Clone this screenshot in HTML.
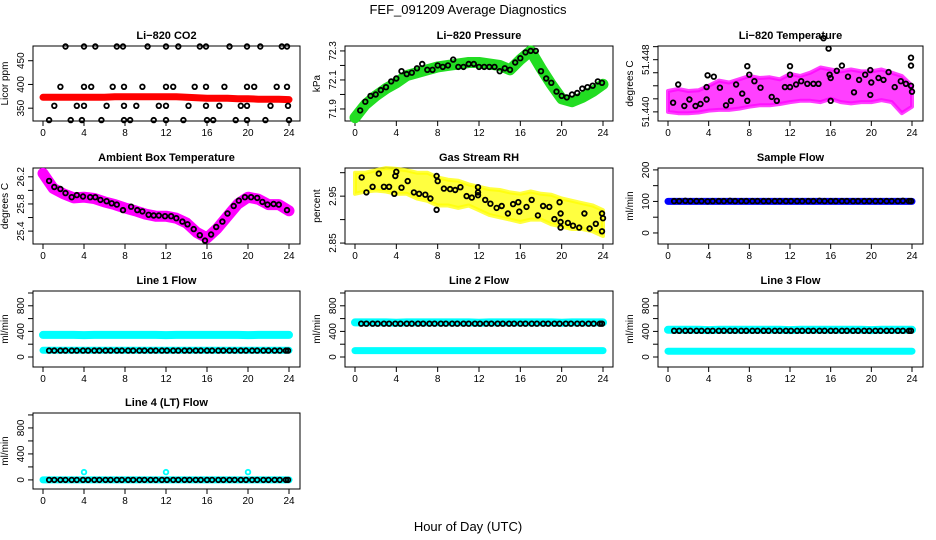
<!DOCTYPE html>
<html><head><meta charset="utf-8">
<style>
html,body{margin:0;padding:0;background:#fff;}
svg{display:block;font-family:"Liberation Sans",sans-serif;}
.t{font-weight:bold;font-size:11px;}
.a{font-size:10px;}
</style></head>
<body>
<svg id="c" width="936" height="540" viewBox="0 0 936 540">
<text x="468" y="14" text-anchor="middle" font-size="13">FEF_091209  Average Diagnostics</text>
<text x="468" y="531" text-anchor="middle" font-size="13">Hour of Day (UTC)</text>
</svg>
<script>
// ---------- data ----------
const xTicks = [0,4,8,12,16,20,24];
const hourly = [0,1,2,3,4,5,6,7,8,9,10,11,12,13,14,15,16,17,18,19,20,21,22,23,24];

const co2BlackHours = [2.2,4.0,5.1,7.2,7.8,10.2,12.0,13.2,15.3,15.9,18.2,19.9,21.2,23.3,23.8,
 1.7,4.0,4.7,6.8,7.9,9.7,12.0,12.7,14.8,15.9,17.7,19.9,20.6,22.8,23.8,
 1.1,3.3,4.0,6.2,7.9,9.1,11.3,12.0,14.2,15.9,17.2,19.3,19.9,22.2,23.9,
 0.6,2.7,3.8,5.7,7.9,8.5,10.8,12.0,13.7,16.0,16.6,18.8,19.9,21.7,24.0];
const co2BlackValues = [480,480,480,480,480,480,480,480,480,480,480,480,480,480,480,
 395,395,395,395,395,395,395,395,395,395,395,395,395,395,395,
 355,355,355,355,355,355,355,355,355,355,355,355,355,355,355,
 325,325,325,325,325,325,325,325,325,325,325,325,325,325,325];
const co2Band = [373,373,373,373,373,373,373,374,374,374,374,374,374,374,373,372,371,371,371,370,370,369,369,369,368];

const presBand = [71.84,71.93,71.99,72.04,72.08,72.13,72.15,72.17,72.19,72.20,72.21,72.22,72.22,72.21,72.20,72.17,72.24,72.30,72.18,72.07,71.97,71.95,71.98,72.02,72.07];
const presBlackHours = [0.5,1,1.5,2,2.5,3,3.5,4,4.5,5,5.5,6,6.5,7,7.5,8,8.5,9,9.5,10,10.5,11,11.5,12,12.5,13,13.5,14,14.5,15,15.5,16,16.5,17,17.5,18,18.5,19,19.5,20,20.5,21,21.5,22,22.5,23,23.5,23.9];
const presBlackValues = [71.89,71.95,71.99,72.00,72.03,72.05,72.09,72.11,72.16,72.14,72.15,72.18,72.21,72.17,72.17,72.20,72.19,72.20,72.24,72.19,72.19,72.21,72.21,72.19,72.19,72.19,72.19,72.16,72.18,72.17,72.22,72.25,72.29,72.30,72.30,72.16,72.11,72.08,72.02,71.99,71.98,72.00,72.01,72.04,72.05,72.06,72.09,72.08];

const tempUpper = [51.4432,51.4435,51.4432,51.4433,51.4440,51.4448,51.4445,51.4450,51.4455,51.4452,51.4453,51.4450,51.4458,51.4455,51.4460,51.4468,51.4465,51.4462,51.4465,51.4462,51.4462,51.4465,51.4460,51.4455,51.4440];
const tempLower = [51.4400,51.4398,51.4398,51.4399,51.4402,51.4403,51.4403,51.4405,51.4408,51.4410,51.4410,51.4412,51.4415,51.4417,51.4417,51.4415,51.4420,51.4415,51.4413,51.4415,51.4415,51.4418,51.4415,51.4398,51.4408];
const tempBlackHours = [0.5,1.0,1.6,2.1,2.7,3.2,3.8,3.8,3.9,4.5,5.1,5.7,6.2,6.7,7.3,7.8,7.8,8.0,8.5,9.1,10.2,10.7,11.5,12,12,12,12.6,13.1,13.7,14.3,14.8,15.3,15.8,15.9,16,16,16.6,17.1,17.7,18.3,18.8,19.4,19.9,19.9,20,20.7,21.2,21.7,22.3,22.9,23.4,23.9,23.9,23.9,24];
const tempBlackValues = [51.4414,51.4442,51.4409,51.4419,51.4409,51.4412,51.4419,51.4438,51.4456,51.4454,51.4437,51.4410,51.4417,51.4442,51.4428,51.4417,51.4470,51.4457,51.4447,51.4437,51.4423,51.4417,51.4438,51.4438,51.4457,51.4470,51.4442,51.4447,51.4443,51.4443,51.4443,51.4513,51.4497,51.4457,51.4452,51.4417,51.4463,51.4471,51.4454,51.4430,51.4449,51.4457,51.4464,51.4426,51.4445,51.4452,51.4449,51.4461,51.4438,51.4447,51.4443,51.4483,51.4471,51.4440,51.4431];

const ambBand = [26.25,26.03,25.95,25.89,25.9,25.88,25.83,25.79,25.74,25.70,25.65,25.62,25.62,25.59,25.52,25.38,25.30,25.44,25.62,25.80,25.90,25.87,25.79,25.79,25.70];
const ambBlackHours = [0.6,1.1,1.7,2.2,2.8,3.3,3.9,4.6,5.1,5.6,6.2,6.7,7.2,7.8,8.6,9.2,9.7,10.3,10.8,11.3,11.9,12.5,13.0,13.6,14.1,14.7,15.3,15.8,16.4,16.9,17.5,18.0,18.6,19.1,19.7,20.3,20.9,21.4,21.9,22.5,23.0,23.8];
const ambBlackValues = [26.14,26.05,26.02,25.96,25.90,25.93,25.91,25.90,25.90,25.86,25.84,25.81,25.79,25.71,25.76,25.71,25.69,25.64,25.63,25.63,25.62,25.62,25.59,25.54,25.50,25.43,25.34,25.26,25.35,25.46,25.54,25.66,25.77,25.85,25.90,25.90,25.89,25.83,25.79,25.80,25.79,25.71];

const rhUpper = [3.0,3.0,3.005,3.01,3.008,3.005,3.0,3.0,2.99,2.985,2.983,2.975,2.97,2.965,2.963,2.958,2.955,2.96,2.955,2.953,2.945,2.94,2.935,2.93,2.92];
const rhLower = [2.955,2.96,2.962,2.96,2.955,2.955,2.945,2.94,2.93,2.93,2.925,2.93,2.92,2.91,2.905,2.9,2.895,2.9,2.9,2.89,2.885,2.88,2.88,2.875,2.865];
const rhBlackHours = [0.65,1.1,1.7,2.3,2.8,3.3,3.8,4.0,3.9,4.5,5.1,5.7,6.2,6.8,7.3,7.9,8.0,7.9,8.6,9.2,9.7,10.2,10.8,11.3,11.9,11.9,11.9,12.6,13.1,13.7,14.2,14.8,15.3,15.8,15.9,16.6,17.1,17.7,18.2,18.8,19.3,19.8,19.9,19.9,19.9,20.6,21.1,21.7,22.2,22.7,23.3,23.9,24,23.9];
const rhBlackValues = [2.990,2.958,2.970,2.998,2.970,2.970,2.955,3.002,2.993,2.968,2.982,2.958,2.955,2.953,2.945,2.921,2.982,2.993,2.966,2.965,2.963,2.969,2.950,2.947,2.958,2.969,2.952,2.942,2.934,2.925,2.929,2.913,2.933,2.937,2.917,2.927,2.942,2.909,2.929,2.927,2.901,2.937,2.913,2.895,2.883,2.893,2.887,2.883,2.913,2.881,2.891,2.913,2.903,2.875];

const flowHours = [0.6,1.1,1.7,2.2,2.8,3.3,3.9,4.4,5.0,5.5,6.1,6.6,7.2,7.7,8.3,8.8,9.4,9.9,10.5,11.0,11.6,12.1,12.7,13.2,13.8,14.3,14.9,15.4,16.0,16.5,17.1,17.6,18.2,18.7,19.3,19.8,20.4,20.9,21.5,22.0,22.6,23.1,23.7,23.9];
const sampleBand = [100,100,100,100,100,100,100,100,100,100,100,100,100,100,100,100,100,100,100,100,100,100,100,100,100];
const sampleBlack = [101,101,102,101,101,101,100,101,101,101,102,101,101,101,101,101,101,101,101,101,101,101,101,101,101,101,102,101,101,101,101,101,101,101,101,101,101,101,101,101,101,102,101,101];
const line1High = [345,345,345,345,343,345,345,345,345,345,345,345,343,345,345,345,345,345,345,345,343,345,345,345,345];
const line1Low = [105,105,105,105,105,105,105,105,105,105,105,105,105,105,105,105,105,105,105,105,105,105,105,105,105];
const line1Black = [100,100,100,100,100,100,100,100,100,100,100,100,100,100,100,100,100,100,100,100,100,100,100,100,100,100,100,100,100,100,100,100,100,100,100,100,100,100,100,100,100,100,100,100];
const line2High = [540,540,540,540,535,540,540,540,540,540,540,540,535,540,540,540,540,540,540,540,535,540,540,540,540];
const line2Low = [100,100,100,100,100,100,100,100,100,100,100,100,100,100,100,100,100,100,100,100,100,100,100,100,100];
const line2Black = [520,520,520,520,520,520,520,520,520,520,520,520,520,520,520,520,520,520,520,520,520,520,520,520,520,520,520,520,520,520,520,520,520,520,520,520,520,520,520,520,520,520,520,520];
const line3High = [425,425,425,425,420,425,425,425,425,425,425,425,420,425,425,425,425,425,425,425,420,425,425,425,425];
const line3Low = [90,90,90,90,90,90,90,90,90,90,90,90,90,90,90,90,90,90,90,90,90,90,90,90,90];
const line3Black = [410,410,410,410,410,410,410,410,410,410,410,410,410,410,410,410,410,410,410,410,410,410,410,410,410,410,410,410,410,410,410,410,410,410,410,410,410,410,410,410,410,410,410,410];
const line4Band = [0,0,0,0,0,0,0,0,0,0,0,0,0,0,0,0,0,0,0,0,0,0,0,0,0];
const line4Black = [0,0,0,0,0,0,0,0,0,0,0,0,0,0,0,0,0,0,0,0,0,0,0,0,0,0,0,0,0,0,0,0,0,0,0,0,0,0,0,0,0,0,0,0];
const line4SpikeHours = [4,12,20];
const line4SpikeValues = [120,120,120];

// ---------- layout ----------
const NS='http://www.w3.org/2000/svg';
const svg=document.getElementById('c');
const cols=[{x0:43,x24:289,l:33,r:300},{x0:355,x24:603,l:345,r:613},{x0:668,x24:912,l:658,r:923}];
const rows=[{t:46,b:121},{t:168,b:244},{t:291,b:367},{t:413,b:489}];
function el(tag,attrs,parent){const e=document.createElementNS(NS,tag);for(const k in attrs)e.setAttribute(k,attrs[k]);(parent||svg).appendChild(e);return e;}

function makePanel(key,title,ci,ri,ymin,ymax,yTicks,yLabels,yTitle){
  const c=cols[ci],r=rows[ri];
  const g=el('g',{});
  
  
  const xs=h=>c.x0+(c.x24-c.x0)*h/24;
  const ys=v=>r.b-(v-ymin)/(ymax-ymin)*(r.b-r.t);
  const tt=el('text',{x:(c.l+c.r)/2,y:r.t-7,'text-anchor':'middle',class:'t'},g);tt.textContent=title;
  
  
  const box=el('rect',{x:c.l,y:r.t,width:c.r-c.l,height:r.b-r.t,fill:'none',stroke:'#000','stroke-width':1},g);
  
  
  const xa=el('g',{},g);
  
  
  el('line',{x1:xs(0),x2:xs(24),y1:r.b,y2:r.b,stroke:'#000'},xa);
  xTicks.forEach(t=>{el('line',{x1:xs(t),x2:xs(t),y1:r.b,y2:r.b+5,stroke:'#000'},xa);
    const tx=el('text',{x:xs(t),y:r.b+15,'text-anchor':'middle',class:'a'},xa);tx.textContent=t;});
  const ya=el('g',{},g);
  
  
  el('line',{x1:c.l,x2:c.l,y1:ys(yTicks[0]),y2:ys(yTicks[yTicks.length-1]),stroke:'#000'},ya);
  yTicks.forEach(t=>el('line',{x1:c.l-5,x2:c.l,y1:ys(t),y2:ys(t),stroke:'#000'},ya));
  yLabels.forEach(lb=>{const y=ys(parseFloat(lb));const tx=el('text',{x:c.l-9,y:y,'text-anchor':'middle',class:'a',transform:`rotate(-90 ${c.l-9} ${y})`},ya);tx.textContent=lb;});
  const yt=el('text',{x:c.l-25,y:(r.t+r.b)/2,'text-anchor':'middle',class:'a',transform:`rotate(-90 ${c.l-25} ${(r.t+r.b)/2})`},g);
  yt.textContent=yTitle;
  
  
  return {g,xs,ys};
}
function bandLine(p,hours,vals,color,w,name){
  const d=hours.map((h,i)=>(i?'L':'M')+p.xs(h).toFixed(1)+' '+p.ys(vals[i]).toFixed(1)).join(' ');
  const e=el('path',{d:d,fill:'none',stroke:color,'stroke-width':w,'stroke-linecap':'round','stroke-linejoin':'round'},p.g);
  
  
}
function bandArea(p,hours,up,lo,color,name){
  let d=hours.map((h,i)=>(i?'L':'M')+p.xs(h).toFixed(1)+' '+p.ys(up[i]).toFixed(1)).join(' ');
  for(let i=hours.length-1;i>=0;i--)d+=' L'+p.xs(hours[i]).toFixed(1)+' '+p.ys(lo[i]).toFixed(1);
  const e=el('path',{d:d+' Z',fill:color,'fill-opacity':0.75,stroke:color,'stroke-opacity':0.75,'stroke-width':4,'stroke-linejoin':'round'},p.g);
  
  
}
function points(p,hours,vals,color,name){
  const g=el('g',{},p.g);
  
  
  hours.forEach((h,i)=>{const y=p.ys(vals[i]);
    const e=el('circle',{cx:p.xs(h).toFixed(1),cy:y.toFixed(1),r:2.3,fill:'none',stroke:color,'stroke-width':1.8},g);
    
    });
}

const flowTicks=[0,200,400,600,800,1000], flowLabels=['0','400','800'];
let p;
p=makePanel('co2','Li\u2212820 CO2',0,0,323,481,[350,400,450],['350','400','450'],'Licor ppm');
bandLine(p,hourly,co2Band,'#ff0000',7,'co2-red-series');
points(p,co2BlackHours,co2BlackValues,'#000','co2-black-points');

p=makePanel('pressure','Li\u2212820 Pressure',1,0,71.817,72.334,[71.9,72.0,72.1,72.2,72.3],['71.9','72.1','72.3'],'kPa');
bandLine(p,hourly,presBand,'#22dd22',11,'pressure-green-series');
points(p,presBlackHours,presBlackValues,'#000','pressure-black-points');

p=makePanel('li820-temp','Li\u2212820 Temperature',2,0,51.4386,51.4501,[51.440,51.442,51.444,51.446,51.448,51.450],['51.440','51.448'],'degrees C');
bandArea(p,hourly,tempUpper,tempLower,'#ff00ff','temp-magenta-series');
points(p,tempBlackHours,tempBlackValues,'#000','temp-black-points');

p=makePanel('ambient-temp','Ambient Box Temperature',0,1,25.21,26.33,[25.4,25.6,25.8,26.0,26.2],['25.4','25.8','26.2'],'degrees C');
bandLine(p,hourly,ambBand,'#ff00ff',11,'ambient-magenta-series');
points(p,ambBlackHours,ambBlackValues,'#000','ambient-black-points');

p=makePanel('rh','Gas Stream RH',1,1,2.848,3.01,[2.85,2.90,2.95,3.00],['2.85','2.95'],'percent');
bandArea(p,hourly,rhUpper,rhLower,'#ffff00','rh-yellow-series');
points(p,rhBlackHours,rhBlackValues,'#000','rh-black-points');

p=makePanel('sample-flow','Sample Flow',2,1,-35,206,[0,50,100,150,200],['0','100','200'],'ml/min');
bandLine(p,hourly,sampleBand,'#0000ff',7,'sample-blue-series');
points(p,flowHours,sampleBlack,'#000','sample-black-points');

p=makePanel('line1','Line 1 Flow',0,2,-156,1031,flowTicks,flowLabels,'ml/min');
bandLine(p,hourly,line1High,'#00ffff',8,'line1-cyan-high');
bandLine(p,hourly,line1Low,'#00ffff',7,'line1-cyan-low');
points(p,flowHours,line1Black,'#000','line1-black-points');

p=makePanel('line2','Line 2 Flow',1,2,-156,1031,flowTicks,flowLabels,'ml/min');
bandLine(p,hourly,line2High,'#00ffff',8,'line2-cyan-high');
bandLine(p,hourly,line2Low,'#00ffff',7,'line2-cyan-low');
points(p,flowHours,line2Black,'#000','line2-black-points');

p=makePanel('line3','Line 3 Flow',2,2,-156,1031,flowTicks,flowLabels,'ml/min');
bandLine(p,hourly,line3High,'#00ffff',8,'line3-cyan-high');
bandLine(p,hourly,line3Low,'#00ffff',7,'line3-cyan-low');
points(p,flowHours,line3Black,'#000','line3-black-points');

p=makePanel('line4','Line 4 (LT) Flow',0,3,-140,1030,flowTicks,flowLabels,'ml/min');
bandLine(p,hourly,line4Band,'#00ffff',7,'line4-cyan-series');
points(p,line4SpikeHours,line4SpikeValues,'#00ffff','line4-cyan-spikes');
points(p,flowHours,line4Black,'#000','line4-black-points');
</script>
</body></html>
